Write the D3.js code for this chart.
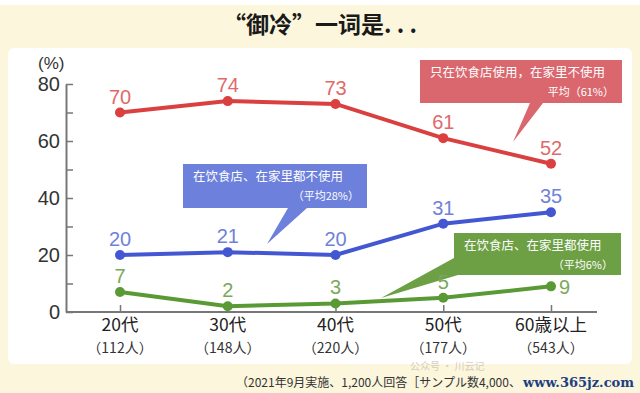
<!DOCTYPE html>
<html lang="zh">
<head>
<meta charset="UTF-8">
<title>御冷</title>
<script src="https://d3js.org/d3.v7.min.js"></script>
<style>
  body { margin: 0; background: #fbf6dc; }
  svg { display: block; }
</style>
</head>
<body>
<svg id="chart" width="640" height="393"></svg>
<script>
// data
const ages = ["20代", "30代", "40代", "50代", "60歳以上"];
const counts = ["（112人）", "（148人）", "（220人）", "（177人）", "（543人）"];
const onlyOut = [70, 74, 73, 61, 52];
const never = [20, 21, 20, 31, 35];
const both = [7, 2, 3, 5, 9];
const yTicks = [0, 10, 20, 30, 40, 50, 60, 70, 80];

const svg = d3.select("#chart");
const cjk = "'Noto Sans CJK SC', 'Noto Sans', sans-serif";
const num = "'Liberation Sans', Arial, sans-serif";

// background + white panel
svg.append("rect").attr("width", 640).attr("height", 393).attr("fill", "#fbf6dc");
svg.append("rect").attr("width", 640).attr("height", 5).attr("fill", "#ffffff");
svg.append("rect").attr("x", 8).attr("y", 48).attr("width", 624).attr("height", 316)
    .attr("rx", 6).attr("fill", "#ffffff");

svg.append("text").attr("x", 320).attr("y", 33).attr("text-anchor", "middle")
    .attr("font-family", cjk).attr("font-weight", "bold").attr("font-size", 23)
    .attr("fill", "#1a1a1a").text("“御冷”一词是. . .");

const x = d3.scalePoint().domain(ages).range([120, 551]);
const y = d3.scaleLinear().domain([0, 80]).range([312, 84]);

// y axis
const yAxis = svg.append("g").attr("transform", "translate(66,0)")
    .call(d3.axisLeft(y).tickValues(yTicks).tickSize(-7).tickSizeOuter(0)
        .tickFormat(d => d % 20 === 0 ? d : ""));
yAxis.select(".domain").attr("stroke", "#777").attr("stroke-width", 2);
yAxis.selectAll(".tick line").attr("stroke", "#777").attr("stroke-width", 1.5);
yAxis.selectAll(".tick text").attr("font-family", num).attr("font-size", 20)
    .attr("fill", "#333").attr("x", -6);

svg.append("text").attr("x", 38).attr("y", 69).attr("font-family", num)
    .attr("font-size", 17).attr("fill", "#333").text("(%)");

// x axis
const xAxis = svg.append("g").attr("transform", "translate(0,312)")
    .call(d3.axisBottom(x).tickSize(-7).tickSizeOuter(0).tickFormat(""));
xAxis.select(".domain").remove();
xAxis.selectAll(".tick line").attr("stroke", "#777").attr("stroke-width", 1.5);
svg.append("line").attr("x1", 66).attr("x2", 597).attr("y1", 312).attr("y2", 312)
    .attr("stroke", "#777").attr("stroke-width", 2);

svg.append("g").selectAll("text").data(ages).join("text")
    .attr("x", d => x(d)).attr("y", 331).attr("text-anchor", "middle")
    .attr("font-family", cjk).attr("font-size", 17.5).attr("fill", "#222").text(d => d);
svg.append("g").selectAll("text").data(counts).join("text")
    .attr("x", (d, i) => x(ages[i])).attr("y", 353).attr("text-anchor", "middle")
    .attr("font-family", cjk).attr("font-size", 14).attr("fill", "#333").text(d => d);

// callouts
function callout(pts, color, lines, bx, by, w) {
    svg.append("path").attr("d", d3.line()(pts)).attr("fill", color);
    svg.append("text").attr("x", bx + 10).attr("y", by + 17).attr("font-family", cjk)
        .attr("font-size", 12.5).attr("fill", "#fff").text(lines[0]);
    svg.append("text").attr("x", bx + w - 8).attr("y", by + 36).attr("text-anchor", "end")
        .attr("font-family", cjk).attr("font-size", 11).attr("fill", "#fff").text(lines[1]);
}
callout([[420, 60], [622, 60], [622, 103], [543, 103], [513, 142], [530, 103], [420, 103]],
    "#d9676d", ["只在饮食店使用，在家里不使用", "平均（61%）"], 420, 60, 202);
callout([[183, 164], [367, 164], [367, 208], [307, 208], [267, 244], [288, 208], [183, 208]],
    "#6c80dc", ["在饮食店、在家里都不使用", "（平均28%）"], 183, 164, 184);
callout([[454, 233], [621, 233], [621, 275], [458, 275], [381, 298], [454, 258]],
    "#6d9f45", ["在饮食店、在家里都使用", "（平均6%）"], 454, 233, 167);

// series
const series = [
    { vals: onlyOut, line: "#d9403f", label: "#e06a6a" },
    { vals: never, line: "#4457d2", label: "#6f82d9" },
    { vals: both, line: "#5a9a35", label: "#7ba85a" }
];
const line = d3.line().x((d, i) => x(ages[i])).y(d => y(d));
series.forEach(s => {
    svg.append("path").datum(s.vals).attr("d", line).attr("fill", "none")
        .attr("stroke", s.line).attr("stroke-width", 4);
    svg.append("g").selectAll("circle").data(s.vals).join("circle")
        .attr("cx", (d, i) => x(ages[i])).attr("cy", d => y(d)).attr("r", 5)
        .attr("fill", s.line);
    svg.append("g").selectAll("text").data(s.vals).join("text")
        .attr("x", (d, i) => s.vals === both && i === 4 ? x(ages[i]) + 8 : x(ages[i]))
        .attr("y", (d, i) => s.vals === both && i === 4 ? y(d) + 8 : y(d) - 9)
        .attr("text-anchor", (d, i) => s.vals === both && i === 4 ? "start" : "middle")
        .attr("font-family", num).attr("font-size", 20).attr("fill", s.label).text(d => d);
});

// footer
svg.append("text").attr("x", 236).attr("y", 387).attr("font-family", "'Noto Sans CJK JP', sans-serif")
    .attr("font-size", 12).attr("fill", "#333").text("（2021年9月実施、1,200人回答［サンプル数4,000、");
svg.append("text").attr("x", 410).attr("y", 369.5).attr("font-family", cjk)
    .attr("font-size", 10).attr("fill", "#c9c4b4").attr("opacity", 0.8).text("公众号 · 川云记");
svg.append("text").attr("x", 634).attr("y", 387).attr("text-anchor", "end")
    .attr("font-family", "'DejaVu Serif', serif").attr("font-weight", "bold")
    .attr("font-size", 13).attr("fill", "#1d3f82").text("www.365jz.com");
</script>
</body>
</html>
